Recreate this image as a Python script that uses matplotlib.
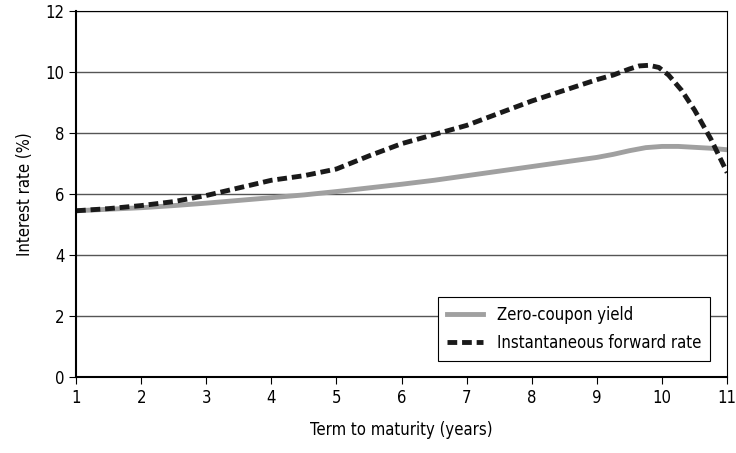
import matplotlib.pyplot as plt
from matplotlib import font_manager

# term to maturity (years) and rates (%)
zero_x = [1, 1.5, 2, 2.5, 3, 3.5, 4, 4.5, 5, 5.5, 6, 6.5, 7, 7.5, 8, 8.5, 9, 9.25, 9.5, 9.75, 10, 10.25, 10.5, 10.75, 11]
zero_y = [5.45, 5.5, 5.55, 5.62, 5.7, 5.79, 5.88, 5.97, 6.08, 6.2, 6.32, 6.45, 6.6, 6.75, 6.9, 7.05, 7.2, 7.3, 7.42, 7.52, 7.56, 7.56, 7.53, 7.5, 7.45]

fwd_x = [1, 1.5, 2, 2.5, 3, 3.5, 4, 4.5, 5, 5.5, 6, 6.5, 7, 7.5, 8, 8.5, 9, 9.25, 9.5, 9.65, 9.8, 9.95, 10.1, 10.3, 10.5, 10.75, 11]
fwd_y = [5.45, 5.52, 5.62, 5.75, 5.95, 6.2, 6.45, 6.6, 6.82, 7.25, 7.65, 7.95, 8.25, 8.65, 9.05, 9.4, 9.75, 9.9, 10.1, 10.2, 10.22, 10.15, 9.9, 9.4, 8.75, 7.8, 6.7]

names = {f.name for f in font_manager.fontManager.ttflist}
if 'Liberation Sans Narrow' in names:
    plt.rcParams['font.family'] = ['Liberation Sans Narrow', 'DejaVu Sans']
else:
    plt.rcParams['font.family'] = ['DejaVu Sans']
    plt.rcParams['font.stretch'] = 'condensed'

fig = plt.figure(figsize=(7.36, 4.53), dpi=100)
ax = fig.add_axes([0.1033, 0.1678, 0.8847, 0.8079])

ax.set_xlim(1, 11)
ax.set_ylim(0, 12)
ax.set_yticks(range(0, 13, 2))
ax.set_xticks(range(1, 12))
ax.yaxis.grid(True, color='#555555', linewidth=1)
ax.set_axisbelow(True)

ax.plot(zero_x, zero_y, color='#a0a0a0', linewidth=3.5, label='Zero-coupon yield')
ax.plot(fwd_x, fwd_y, color='#1a1a1a', linewidth=3.5, linestyle=(0, (2, 1)), label='Instantaneous forward rate')

for s in ax.spines.values():
    s.set_color('black')
ax.spines['left'].set_linewidth(1.5)
ax.spines['bottom'].set_linewidth(1.5)
ax.tick_params(direction='out', length=5, labelsize=12, colors='black')

ax.set_xlabel('Term to maturity (years)', fontsize=12, labelpad=10)
ax.set_ylabel('Interest rate (%)', fontsize=12, labelpad=8)

leg = ax.legend(loc='lower right', bbox_to_anchor=(0.974, 0.044), borderaxespad=0, fontsize=12,
                fancybox=False, edgecolor='black', framealpha=1, handlelength=2.2,
                borderpad=0.55, labelspacing=0.6)
leg.get_frame().set_linewidth(0.8)

fig.savefig('out.png', dpi=100)
